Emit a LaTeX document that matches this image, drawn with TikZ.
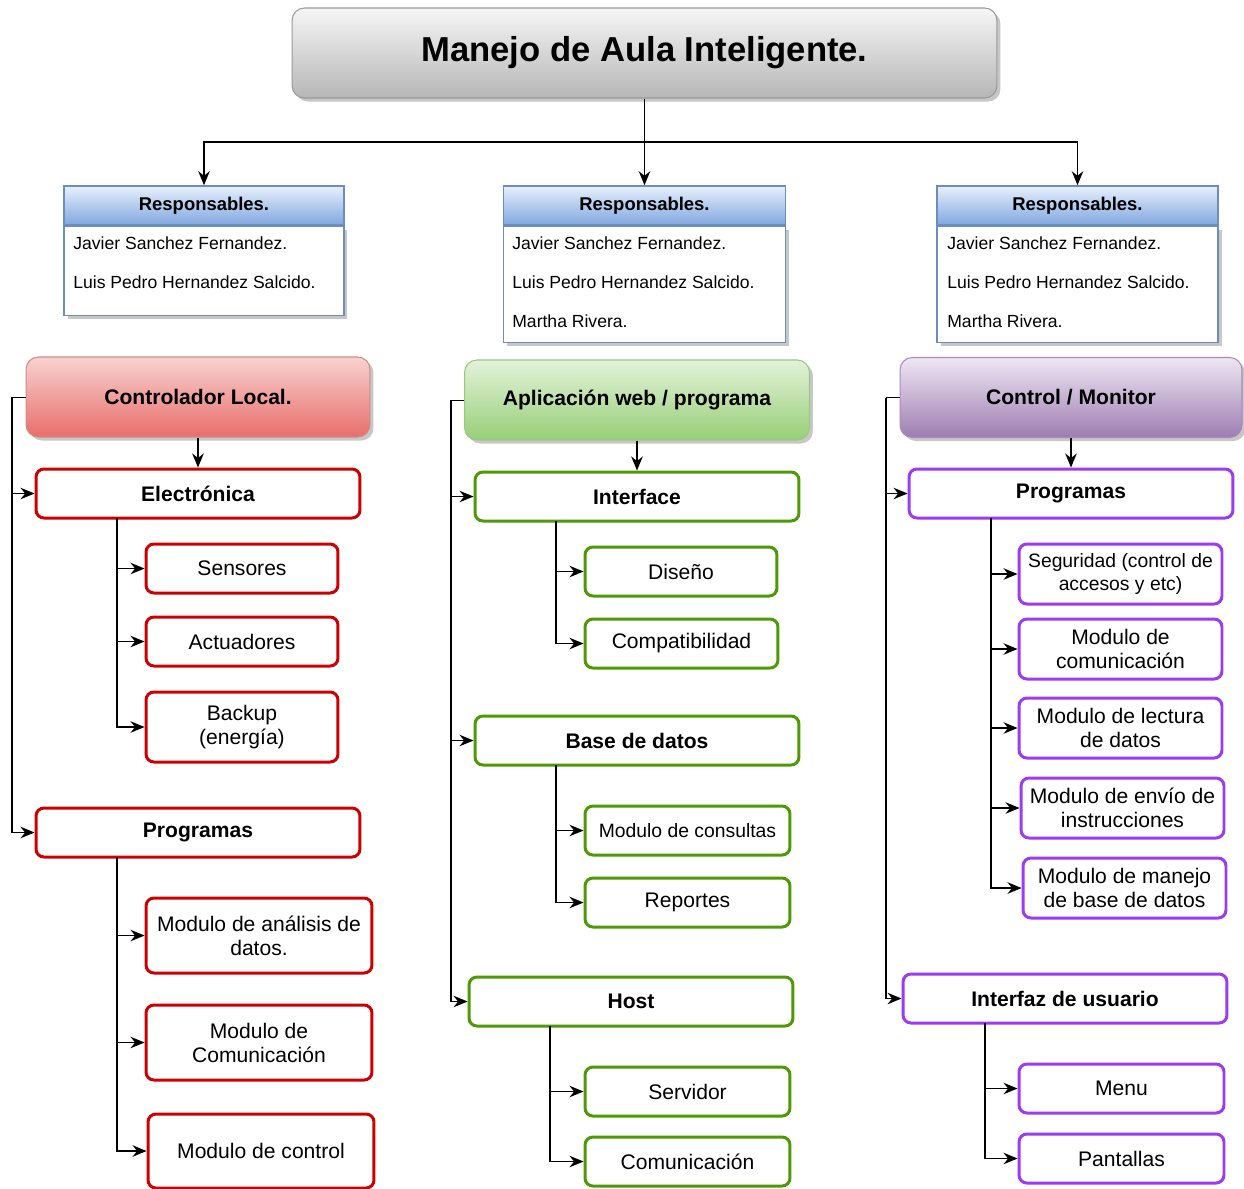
\documentclass[tikz,border=0pt]{standalone}
\usepackage{fontspec}
\setmainfont{Liberation Sans}
\usetikzlibrary{arrows.meta,positioning,shadows}
\definecolor{grayTop}{HTML}{F6F6F6}
\definecolor{grayMid}{HTML}{DADADA}
\definecolor{grayBot}{HTML}{B6B6B6}
\definecolor{grayLine}{HTML}{9A9A9A}
\definecolor{blueTop}{HTML}{E8F0FC}
\definecolor{blueMid}{HTML}{B4CCF0}
\definecolor{blueBot}{HTML}{80A7E0}
\definecolor{blueLine}{HTML}{6C8EBF}
\definecolor{redTop}{HTML}{F8D2D0}
\definecolor{redMid}{HTML}{F0A09D}
\definecolor{redBot}{HTML}{E86E6A}
\definecolor{redLine}{HTML}{D08A88}
\definecolor{redBox}{HTML}{CC0000}
\definecolor{greenTop}{HTML}{E3F2DA}
\definecolor{greenMid}{HTML}{B8DFA0}
\definecolor{greenBot}{HTML}{97CF77}
\definecolor{greenLine}{HTML}{9CC783}
\definecolor{greenBox}{HTML}{4E9A06}
\definecolor{purpleTop}{HTML}{EFE7F3}
\definecolor{purpleMid}{HTML}{C3ABD2}
\definecolor{purpleBot}{HTML}{9D7DB1}
\definecolor{purpleLine}{HTML}{A88BBA}
\definecolor{purpleBox}{HTML}{9D3BF2}

\begin{document}
\begin{tikzpicture}[x=0.02cm,y=-0.02cm,
  shade/.style={drop shadow={shadow xshift=2pt,shadow yshift=-2pt,fill=black,opacity=0.22}},
  titlebox/.style={rounded corners=7pt,draw=grayLine,line width=0.6pt,top color=grayTop,middle color=grayMid,bottom color=grayBot,shade,minimum width=14.1cm,minimum height=1.8cm,font=\bfseries\fontsize{19.7}{23}\selectfont},
  hdr/.style={rounded corners=7pt,draw=#1Line,line width=0.6pt,top color=#1Top,middle color=#1Mid,bottom color=#1Bot,shade,minimum height=1.6cm,font=\bfseries\fontsize{12}{14}\selectfont},
  rhead/.style={draw=blueLine,line width=0.9pt,top color=blueTop,middle color=blueMid,bottom color=blueBot,minimum height=0.78cm,font=\bfseries\fontsize{10.5}{12}\selectfont},
  rbody/.style={draw=blueLine,line width=0.9pt,fill=white,shade},
  person/.style={anchor=west,inner sep=0pt,font=\fontsize{10}{12}\selectfont},
  lvl/.style={rounded corners=4.5pt,draw=#1Box,line width=1.7pt,fill=white,minimum width=6.48cm,minimum height=0.98cm,font=\bfseries\fontsize{12}{14}\selectfont},
  leaf/.style={rounded corners=4.5pt,draw=#1Box,line width=1.7pt,fill=white,align=center,inner sep=1pt,font=\fontsize{12}{13.6}\selectfont},
  small/.style={font=\fontsize{11}{13.6}\selectfont},
  arr/.style={-{Stealth[length=2.8mm,width=2.3mm]},line width=0.7pt}
]
\useasboundingbox (0,0) rectangle (1244,1188);

% title and responsables
\node[titlebox] (title) at (644.5,53) {Manejo de Aula Inteligente.};

\node[rhead,minimum width=5.6cm] (rh1) at (204,205.5) {Responsables.};
\node[rbody,minimum width=5.6cm,minimum height=1.78cm,below=0pt of rh1] (rb1) {};
\node[rhead,minimum width=5.64cm] (rh2) at (644.5,205.5) {Responsables.};
\node[rbody,minimum width=5.64cm,minimum height=2.32cm,below=0pt of rh2] (rb2) {};
\node[rhead,minimum width=5.62cm] (rh3) at (1077.5,205.5) {Responsables.};
\node[rbody,minimum width=5.62cm,minimum height=2.32cm,below=0pt of rh3] (rb3) {};

\node[person] (p11) at (73,243) {Javier Sanchez Fernandez.};
\node[person] (p12) at (73,282) {Luis Pedro Hernandez Salcido.};
\node[person] (p21) at (512,243) {Javier Sanchez Fernandez.};
\node[person] (p22) at (512,282) {Luis Pedro Hernandez Salcido.};
\node[person] (p23) at (512,321) {Martha Rivera.};
\node[person] (p31) at (947,243) {Javier Sanchez Fernandez.};
\node[person] (p32) at (947,282) {Luis Pedro Hernandez Salcido.};
\node[person] (p33) at (947,321) {Martha Rivera.};

\coordinate (br) at (644.5,142);
\draw[arr] (title.south) -- (rh2.north);
\draw[arr] (br) -| (rh1.north);
\draw[arr] (br) -| (rh3.north);

% Controlador Local
\node[hdr=red,minimum width=6.88cm] (hL) at (198,397) {Controlador Local.};
\node[lvl=red] (eL) at (198,493.5) {Electrónica};
\node[lvl=red] (pL) at (198,832.5) {Programas};
\node[leaf=red,minimum width=3.84cm,minimum height=0.98cm] (sens) at (242,568.5) {Sensores};
\node[leaf=red,minimum width=3.84cm,minimum height=0.98cm] (act) at (242,641.5) {Actuadores};
\node[leaf=red,minimum width=3.84cm,minimum height=1.4cm] (back) at (242,727) {Backup\\(energía)};
\node[leaf=red,minimum width=4.52cm,minimum height=1.5cm] (mana) at (259,935.5) {Modulo de análisis de\\datos.};
\node[leaf=red,minimum width=4.52cm,minimum height=1.5cm] (mcomL) at (259,1042.5) {Modulo de\\Comunicación};
\node[leaf=red,minimum width=4.52cm,minimum height=1.48cm] (mctl) at (261,1151) {Modulo de control};

% Aplicacion web
\node[hdr=green,minimum width=6.9cm] (hM) at (637,400) {Aplicación web / programa};
\node[lvl=green] (iM) at (637,496.5) {Interface};
\node[lvl=green] (bM) at (637,740.5) {Base de datos};
\node[lvl=green] (hoM) at (631,1001.5) {Host};
\node[leaf=green,minimum width=3.84cm,minimum height=0.98cm] (dis) at (681,571.5) {Diseño};
\node[leaf=green,minimum width=3.86cm,minimum height=0.98cm] (comp) at (681.5,643.5) {Compatibilidad};
\node[leaf=green,small,minimum width=4.1cm,minimum height=0.98cm] (cons) at (687.5,830.5) {Modulo de consultas};
\node[leaf=green,minimum width=4.1cm,minimum height=0.98cm] (rep) at (687.5,902.5) {Reportes};
\node[leaf=green,minimum width=4.1cm,minimum height=0.98cm] (serv) at (687.5,1091.5) {Servidor};
\node[leaf=green,minimum width=4.1cm,minimum height=0.98cm] (comM) at (687.5,1161.5) {Comunicación};

% Control / Monitor
\node[hdr=purple,minimum width=6.84cm] (hR) at (1071,397.5) {Control / Monitor};
\node[lvl=purple] (pR) at (1071,493.5) {Programas};
\node[lvl=purple] (uR) at (1065,998.5) {Interfaz de usuario};
\node[leaf=purple,small,minimum width=4.06cm,minimum height=1.2cm] (seg) at (1120.5,574) {Seguridad (control de\\accesos y etc)};
\node[leaf=purple,minimum width=4.06cm,minimum height=1.2cm] (mcomR) at (1120.5,649) {Modulo de\\comunicación};
\node[leaf=purple,minimum width=4.06cm,minimum height=1.2cm] (mlec) at (1120.5,728) {Modulo de lectura\\de datos};
\node[leaf=purple,minimum width=4.06cm,minimum height=1.2cm] (menv) at (1122.5,808) {Modulo de envío de\\instrucciones};
\node[leaf=purple,minimum width=4.06cm,minimum height=1.2cm] (mman) at (1124.5,888) {Modulo de manejo\\de base de datos};
\node[leaf=purple,minimum width=4.1cm,minimum height=0.98cm] (menu) at (1121.5,1088.5) {Menu};
\node[leaf=purple,minimum width=4.1cm,minimum height=0.98cm] (pant) at (1121.5,1158.5) {Pantallas};

% connectors
\coordinate (sL) at (12,397);
\coordinate (sM) at (451,400);
\coordinate (sR) at (886,397.5);
\coordinate (eLs) at (117,518);
\coordinate (pLs) at (117,857);
\coordinate (iMs) at (556,521);
\coordinate (bMs) at (556,765);
\coordinate (hoMs) at (550,1026);
\coordinate (pRs) at (991,518);
\coordinate (uRs) at (985,1023);

\draw[arr] (hL) -- (eL);
\draw[arr] (hM) -- (iM);
\draw[arr] (hR) -- (pR);
\draw (hL.west) -- (sL);
\draw (hM.west) -- (sM);
\draw (hR.west) -- (sR);
\foreach \n in {eL,pL} \draw[arr] (sL) |- (\n.west);
\foreach \n in {iM,bM,hoM} \draw[arr] (sM) |- (\n.west);
\foreach \n in {pR,uR} \draw[arr] (sR) |- (\n.west);
\foreach \n in {sens,act,back} \draw[arr] (eLs) |- (\n.west);
\foreach \n in {mana,mcomL,mctl} \draw[arr] (pLs) |- (\n.west);
\foreach \n in {dis,comp} \draw[arr] (iMs) |- (\n.west);
\foreach \n in {cons,rep} \draw[arr] (bMs) |- (\n.west);
\foreach \n in {serv,comM} \draw[arr] (hoMs) |- (\n.west);
\foreach \n in {seg,mcomR,mlec,menv,mman} \draw[arr] (pRs) |- (\n.west);
\foreach \n in {menu,pant} \draw[arr] (uRs) |- (\n.west);
\end{tikzpicture}
\end{document}
